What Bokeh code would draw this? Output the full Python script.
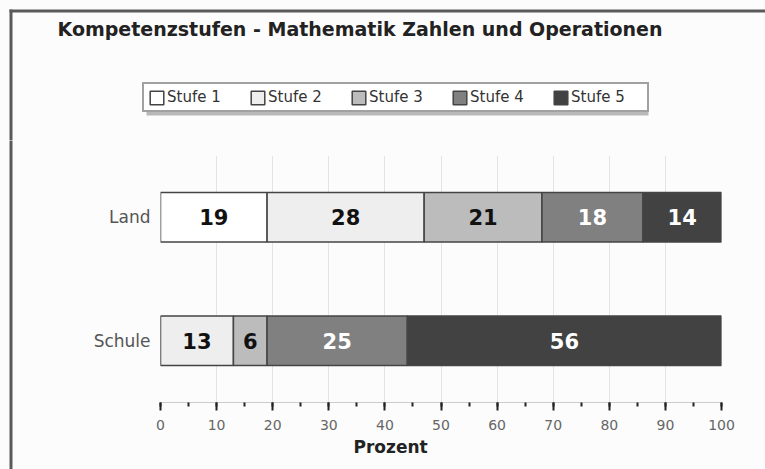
from bokeh.plotting import figure
from bokeh.models import (ColumnDataSource, FactorRange, Range1d, SingleIntervalTicker,
                          Title, Legend, LegendItem)
from bokeh.layouts import column, row
from bokeh.core.properties import value
from bokeh.embed import file_html
from bokeh.resources import INLINE

# ---- data ----
title_text = "Kompetenzstufen - Mathematik Zahlen und Operationen"
x_label = "Prozent"
categories = ["Land", "Schule"]
stufen = ["Stufe 1", "Stufe 2", "Stufe 3", "Stufe 4", "Stufe 5"]
land = [19, 28, 21, 18, 14]
schule = [0, 13, 6, 25, 56]
colors = ["#ffffff", "#eeeeee", "#bcbcbc", "#808080", "#424242"]
label_colors = ["#111111", "#111111", "#111111", "#ffffff", "#ffffff"]

FONT = "DejaVu Sans"
BG = "#fcfcfc"
EDGE = "#5a5a5a"

W, H = 765, 469
TOP_H = 140
STRIP_W = 30
MAIN_W = W - STRIP_W
MAIN_H = H - TOP_H
# frame of main chart in page pixels: x 160..721, y 155..402
FL, FR, FT, FB = 160 - STRIP_W, 721 - STRIP_W, 155 - TOP_H, 402 - TOP_H


def bare(width, height, xr, yr):
    f = figure(width=width, height=height, x_range=xr, y_range=yr,
               x_axis_type=None, y_axis_type=None, title_location=None,
               toolbar_location=None, output_backend="svg", min_border=0)
    f.background_fill_color = BG
    f.border_fill_color = BG
    f.outline_line_color = None
    f.frame_align = False
    return f


# ---- header: title, legend, frame border ----
top = bare(W, TOP_H, Range1d(0, W), Range1d(TOP_H, 0))
top.segment(x0=[9, 10.5], y0=[10.5, 9], x1=[W, 10.5], y1=[10.5, TOP_H],
            line_color=EDGE, line_width=3)
top.text(x=[57], y=[28], text=[title_text], text_font=value(FONT),
         text_font_style="bold", text_font_size="19px", text_color="#222222",
         text_align="left", text_baseline="middle")
# legend shadow
top.quad(left=[146], right=[648], top=[85], bottom=[115], fill_color="#b8b8b8",
         line_color=None)

items = []
for s, c in zip(stufen, colors):
    # legend swatch renderer (its single point lies outside the visible range)
    r = top.rect(x=[-100], y=[-100], width=1, height=1, fill_color=c,
                 line_color="#444444", line_width=1.5)
    items.append(LegendItem(label=s, renderers=[r]))
lg = Legend(items=items, orientation="horizontal", location=(142, 28))
lg.border_line_color = "#444444"
lg.border_line_width = 2
lg.background_fill_color = "#ffffff"
lg.background_fill_alpha = 1
lg.label_text_font = FONT
lg.label_text_font_size = "15px"
lg.label_text_color = "#333333"
lg.glyph_width = 17
lg.glyph_height = 17
lg.label_standoff = 2
lg.label_width = 72
lg.label_height = 15
lg.spacing = 10
lg.padding = 4
lg.margin = 0
top.add_layout(lg)

# ---- left strip with the frame border ----
strip = bare(STRIP_W, MAIN_H, Range1d(0, STRIP_W), Range1d(MAIN_H, 0))
strip.segment(x0=[10.5], y0=[-2], x1=[10.5], y1=[MAIN_H], line_color=EDGE, line_width=3)

# ---- main chart ----
p = figure(width=MAIN_W, height=MAIN_H, output_backend="svg", toolbar_location=None,
           title_location=None,
           y_range=FactorRange(factors=categories[::-1], range_padding=0),
           x_range=Range1d(0, 100),
           min_border_left=FL, min_border_right=MAIN_W - FR,
           min_border_top=FT, min_border_bottom=MAIN_H - FB)
p.background_fill_color = BG
p.border_fill_color = BG
p.outline_line_color = None
p.frame_align = False

data = {"cat": categories}
for i, s in enumerate(stufen):
    data[s] = [land[i], schule[i]]
src = ColumnDataSource(data)

p.hbar_stack(stufen, y="cat", height=0.4, source=src, fill_color=colors,
             line_color="#444444", line_width=1.5)

lx, ly, lt, lc = [], [], [], []
for vals, cat in zip([land, schule], categories):
    left = 0
    for i, v in enumerate(vals):
        if v > 0:
            lx.append(left + v / 2)
            ly.append(cat)
            lt.append(str(v))
            lc.append(label_colors[i])
        left += v
p.text(x=lx, y=ly, text=lt, text_color=lc, text_align="center", text_baseline="middle",
       text_font=value(FONT), text_font_style="bold", text_font_size="21px")

xa = p.xaxis[0]
xa.ticker = SingleIntervalTicker(interval=10, num_minor_ticks=2)
xa.axis_line_color = "#cccccc"
xa.major_tick_line_color = "#222222"
xa.major_tick_line_width = 2
xa.major_tick_out = 8
xa.major_tick_in = 0
xa.minor_tick_line_color = "#222222"
xa.minor_tick_line_width = 2
xa.minor_tick_out = 4
xa.minor_tick_in = 0
xa.major_label_text_font = FONT
xa.major_label_text_font_size = "14px"
xa.major_label_text_color = "#666666"
xa.major_label_standoff = 9

ya = p.yaxis[0]
ya.axis_line_color = None
ya.major_tick_line_color = None
ya.major_tick_out = 0
ya.major_tick_in = 0
ya.minor_tick_line_color = None
ya.major_label_text_font = FONT
ya.major_label_text_font_size = "17px"
ya.major_label_text_color = "#555555"
ya.major_label_standoff = 10

p.xgrid.grid_line_color = "#e4e4e4"
p.ygrid.grid_line_color = None

xt = Title(text=x_label, align="left", offset=193, text_font=FONT,
           text_font_style="bold", text_font_size="17px", text_color="#222222",
           standoff=4)
p.add_layout(xt, "below")

layout = column(top, row(strip, p, spacing=0), spacing=0)
layout.styles = {"background-color": BG}

open("out.html", "w").write(file_html(layout, INLINE))
